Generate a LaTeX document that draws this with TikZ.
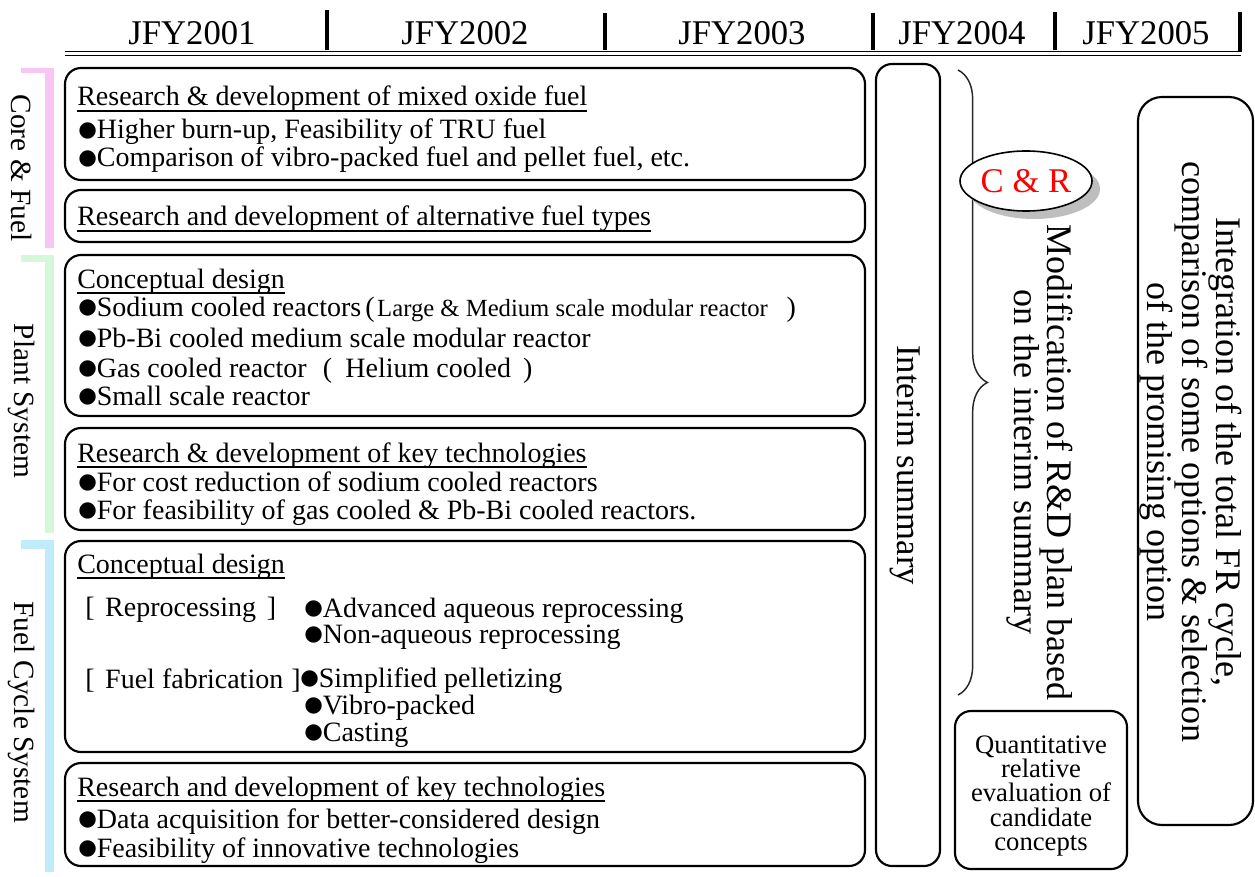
\documentclass[tikz,border=0pt]{standalone}
\usepackage{fontspec}
\setmainfont{Liberation Serif}
\newfontfamily\bulletfont{DejaVu Sans}
\usetikzlibrary{shapes.geometric,decorations.pathreplacing,shadows}
\definecolor{corepink}{HTML}{F8C6F4}
\definecolor{plantgreen}{HTML}{D4F8D8}
\definecolor{cycleblue}{HTML}{BEEDF9}
\definecolor{shadowgray}{HTML}{BEBEBE}
\newcommand{\fsz}[2]{\fontsize{#1}{#2}\selectfont}
% solid bullet, centred on the capital letters
\newcommand{\blt}{\raisebox{1.6pt}{\bulletfont\fontsize{16}{20}\selectfont ●}}
% underline sitting just below the baseline
\newcommand{\ulx}[1]{\setbox0\hbox{#1}\rlap{\rule[-4.2pt]{\wd0}{0.9pt}}\box0}
% rounded panel spanning (x1,y1)--(x2,y2), in pixel units
\newcommand{\panel}[6][]{%
  \node[task,#1,minimum width={(#5-#3)*0.75pt},minimum height={(#6-#4)*0.75pt}]
    (#2) at ({(#3+#5)/2},{(#4+#6)/2}) {};}
\begin{document}
\begin{tikzpicture}[x=0.75pt,y=-0.75pt,
  task/.style={draw=black,line width=1.6pt,rounded corners=12pt,inner sep=0pt},
  yearlabel/.style={font=\fsz{26}{30},anchor=base,inner sep=0pt},
  yearbar/.style={line width=3pt},
  body/.style={font=\fsz{21}{24},anchor=base west,inner sep=0pt},
  sidelabel/.style={font=\fsz{22}{24},rotate=-90,inner sep=0pt},
  vtext/.style={rotate=-90,align=center,inner sep=0pt}]
\useasboundingbox (0,0) rectangle (1255,877);

% ---- year header ----
\node[yearlabel] (y1) at (192,45) {JFY2001};
\node[yearlabel] (y2) at (465,45) {JFY2002};
\node[yearlabel] (y3) at (742,45) {JFY2003};
\node[yearlabel] (y4) at (962,45) {JFY2004};
\node[yearlabel] (y5) at (1146,45) {JFY2005};
\draw[yearbar] (327,10) -- (327,50);
\draw[yearbar] (605,13) -- (605,50);
\draw[yearbar] (873,13) -- (873,50);
\draw[yearbar] (1055,12) -- (1055,50);
\draw[yearbar] (1240,12) -- (1240,52);
\draw[line width=1.1pt] (65,51.5) -- (1241,51.5);
\draw[line width=1.1pt] (65,55.5) -- (1241,55.5);

% ---- category brackets ----
\fill[corepink] (21,68) rectangle (54,73);
\fill[corepink] (45,68) rectangle (54,248);
\node[sidelabel] (core) at (22,168) {Core \& Fuel};
\fill[plantgreen] (21,255) rectangle (54,262);
\fill[plantgreen] (45,255) rectangle (54,533);
\node[sidelabel] (plant) at (22,401) {Plant System};
\fill[cycleblue] (21,540) rectangle (54,549);
\fill[cycleblue] (45,540) rectangle (54,872);
\node[sidelabel] (cycle) at (22,712) {Fuel Cycle System};

% ---- task panels ----
\panel{b1}{65}{68}{865}{180}
\node[body] (b1t) at (77,106) {\ulx{Research \& development of mixed oxide fuel}};
\node[body] (b1a) at (78,139) {\blt Higher burn-up, Feasibility of TRU fuel};
\node[body] (b1b) at (78,167) {\blt Comparison of vibro-packed fuel and pellet fuel, etc.};

\panel{b2}{65}{190}{865}{242}
\node[body] (b2t) at (77,226) {\ulx{Research and development of alternative fuel types}};

\panel{b3}{65}{255}{865}{416}
\node[body] (b3t) at (77,288) {\ulx{Conceptual design}};
\node[body] (b3a) at (78,316) {\blt Sodium cooled reactors\hspace{3pt}(\hspace{2pt}{\fsz{18.5}{20}Large \& Medium scale modular reactor}\hspace{14pt})};
\node[body] (b3b) at (78,347) {\blt Pb-Bi cooled medium scale modular reactor};
\node[body] (b3c) at (78,377) {\blt Gas cooled reactor\hspace{12pt}(\hspace{10pt}Helium cooled\hspace{9pt})};
\node[body] (b3d) at (78,405) {\blt Small scale reactor};

\panel{b4}{65}{428}{865}{530}
\node[body] (b4t) at (77,462) {\ulx{Research \& development of key technologies}};
\node[body] (b4a) at (78,491) {\blt For cost reduction of sodium cooled reactors};
\node[body] (b4b) at (78,519) {\blt For feasibility of gas cooled \& Pb-Bi cooled reactors.};

\panel{b5}{65}{541}{865}{752}
\node[body] (b5t) at (77,573) {\ulx{Conceptual design}};
\node[body] (rep) at (85,616) {[\hspace{8pt}Reprocessing\hspace{8pt}]};
\node[body] (rep1) at (304,617) {\blt Advanced aqueous reprocessing};
\node[body] (rep2) at (304,643) {\blt Non-aqueous reprocessing};
\node[body] (fab) at (85,688) {[\hspace{8pt}Fuel fabrication\hspace{6pt}]};
\node[body] (fab1) at (300,687) {\blt Simplified pelletizing};
\node[body] (fab2) at (304,714) {\blt Vibro-packed};
\node[body] (fab3) at (304,741) {\blt Casting};

\panel{b6}{65}{763}{865}{866}
\node[body] (b6t) at (77,796) {\ulx{Research and development of key technologies}};
\node[body] (b6a) at (78,828) {\blt Data acquisition for better-considered design};
\node[body] (b6b) at (78,857) {\blt Feasibility of innovative technologies};

% ---- interim summary ----
\panel{interimbox}{876}{64}{940}{866}
\node[vtext,font=\fsz{26}{30}] (interim) at (905,465) {Interim summary};

% ---- modification of the plan ----
\coordinate (braceTop) at (958,70);
\coordinate (braceBot) at (958,695);
\draw[line width=1.1pt,black!85,decorate,decoration={brace,amplitude=22pt}] (braceTop) -- (braceBot);
\node[ellipse,draw,line width=1.2pt,fill=white,text=red,font=\fsz{26}{30},
  minimum width={132*0.75pt},minimum height={60*0.75pt},inner sep=0pt,
  drop shadow={shadow xshift=6pt,shadow yshift=-6pt,fill=shadowgray,opacity=1}]
  (cr) at (1026,181) {C \& R};
\node[vtext,font=\fsz{27}{24.5}] (modif) at (1040,462)
  {Modification of R\&D plan based\\on the interim summary};

\panel{quantbox}{955}{711}{1127}{869}
\node[align=center,font=\fsz{20}{18.3},inner sep=0pt] (quant) at (1041,796)
  {Quantitative\\relative\\evaluation of\\candidate\\concepts};

% ---- final integration ----
\panel[rounded corners=18pt]{intbox}{1138}{97}{1253}{825}
\node[vtext,font=\fsz{27}{24.5}] (integ) at (1191,452)
  {Integration of the total FR cycle,\\comparison of some options \& selection\\of the promising option};
\end{tikzpicture}
\end{document}
